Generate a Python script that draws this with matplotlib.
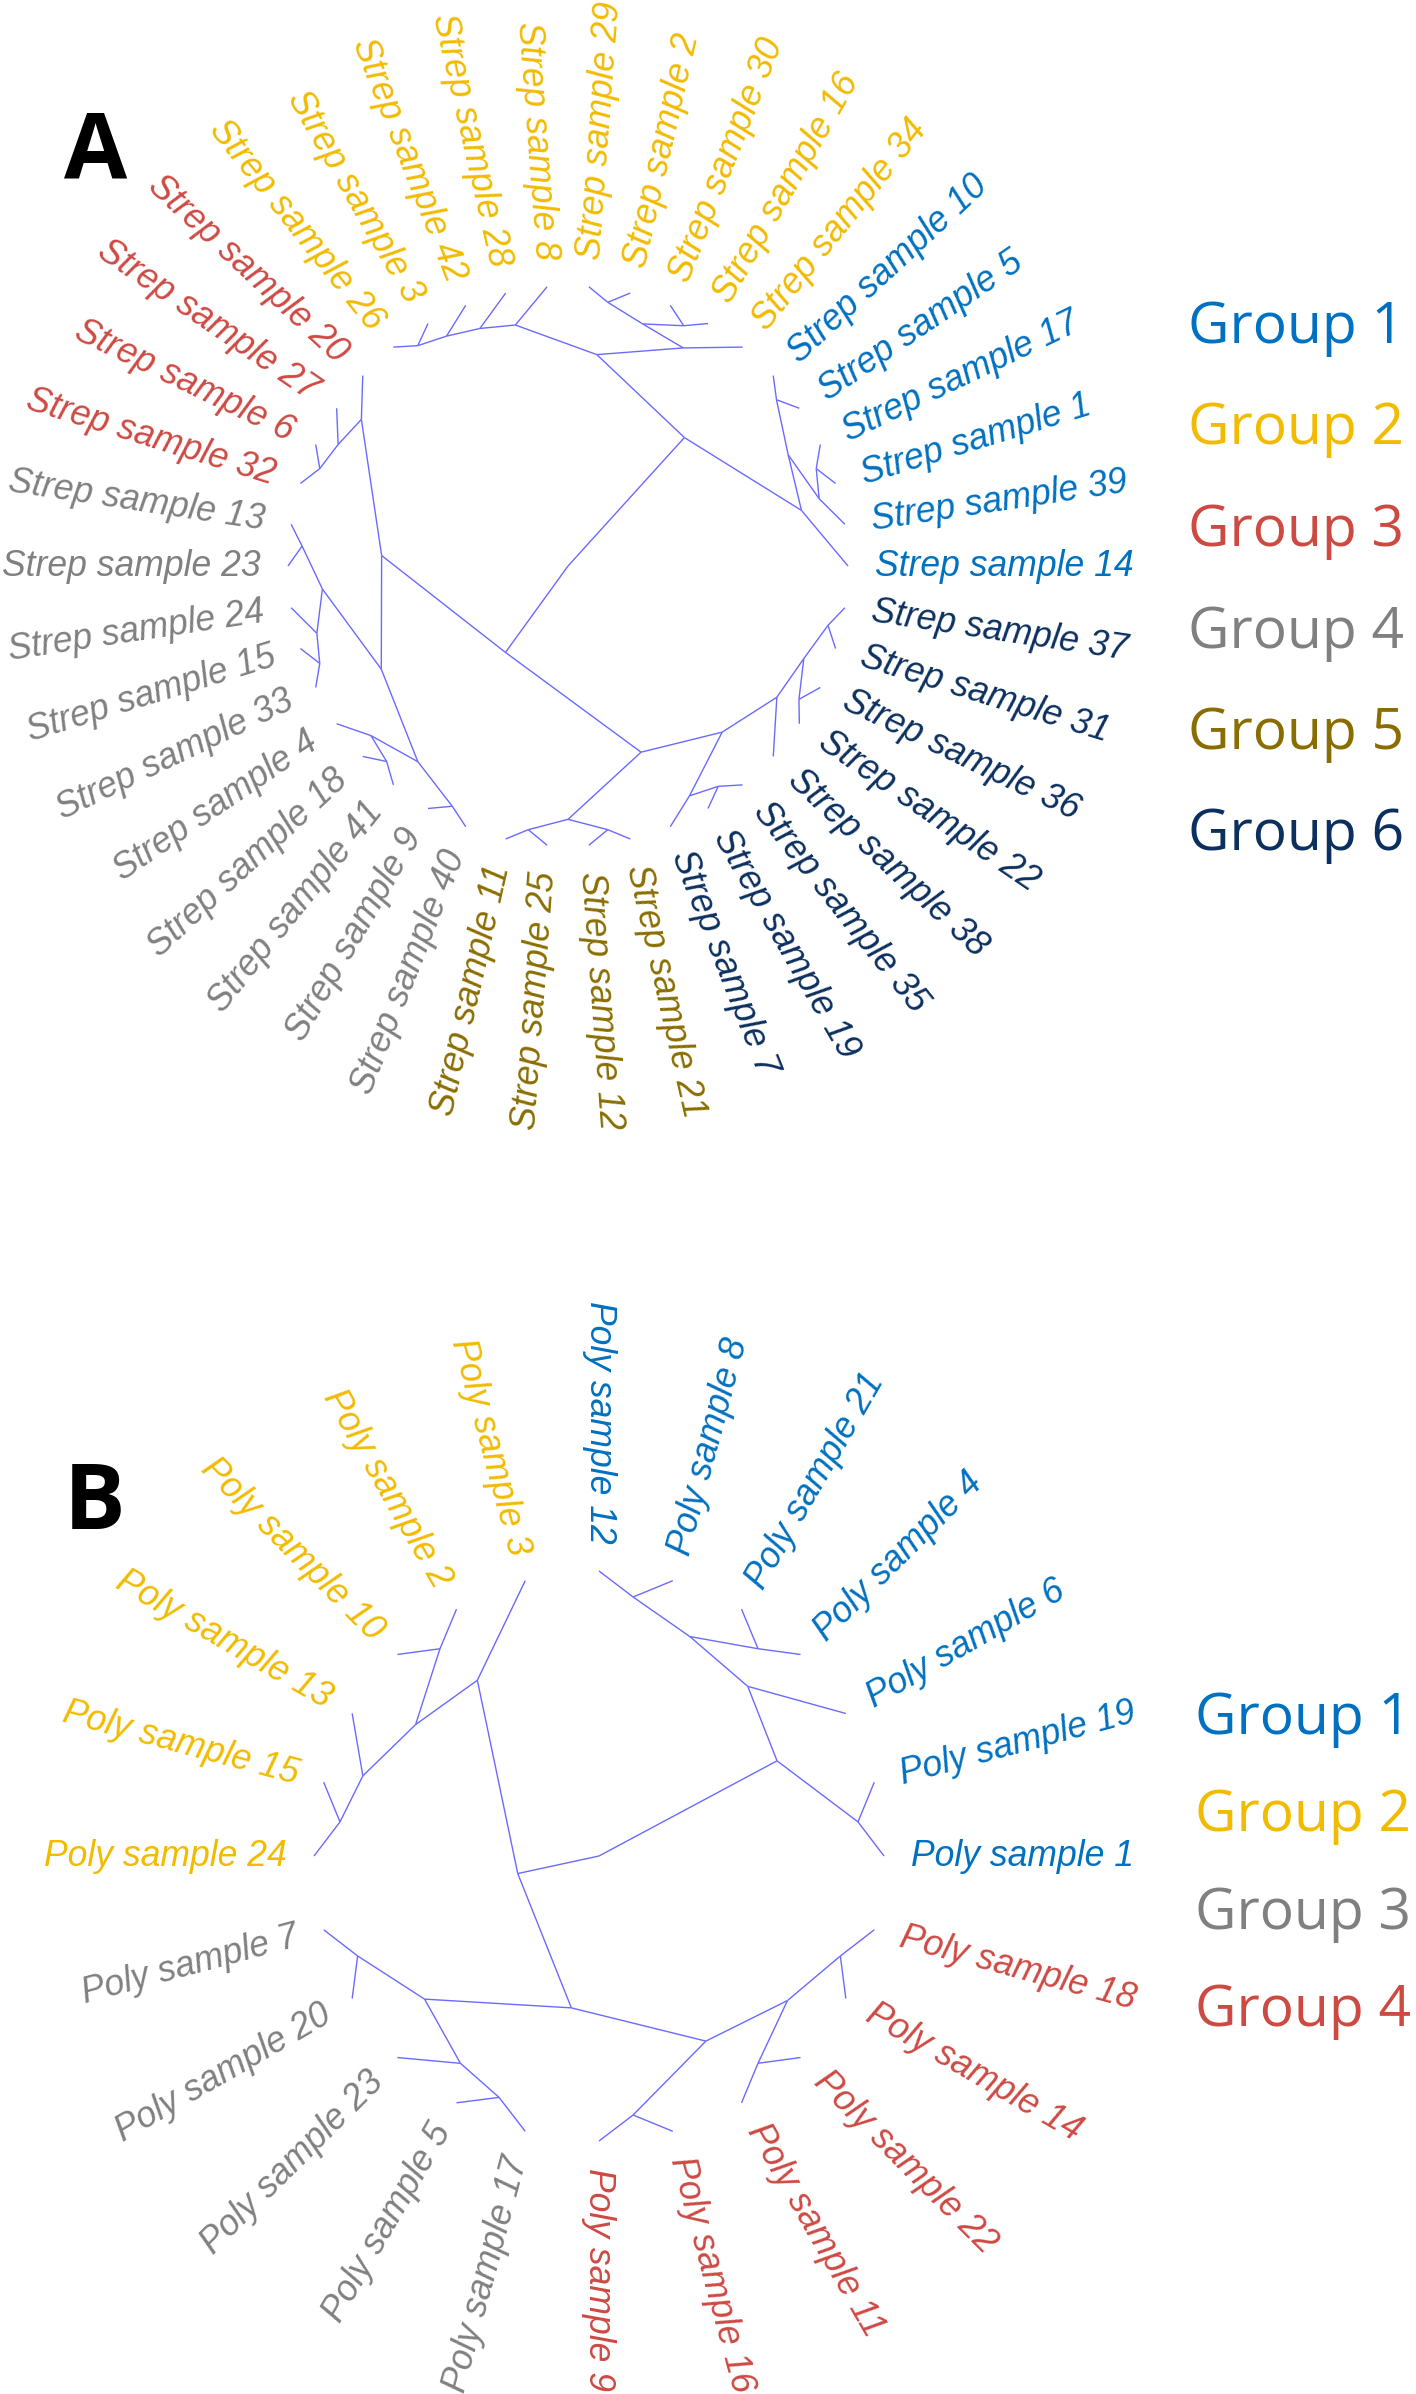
import numpy as np
import matplotlib
matplotlib.use("Agg")
import matplotlib.pyplot as plt
from matplotlib.collections import LineCollection

# ------------------------------------------------------------------ data
# Tree topologies (nested pairs of sample numbers).
strep_tree = (
    ((14, ((39, (1, 17)), (5, 10))),
     ((34, ((16, 30), (2, 29))), (8, (28, (42, (3, 26)))))),
    (((20, (27, (6, 32))),
      (((13, 23), (24, (15, 33))), ((4, (18, 41)), (9, 40)))),
     (((11, 25), (12, 21)),
      ((7, (19, 35)), (38, ((22, 36), (31, 37)))))),
)

poly_tree = (
    ((1, 19), (6, ((4, 21), (8, 12)))),
    ((3, ((2, 10), (13, (15, 24)))),
     (((7, 20), (23, (5, 17))), ((9, 16), ((11, 22), (14, 18))))),
)

# Group membership
strep_groups = [
    [10, 5, 17, 1, 39, 14],
    [26, 3, 42, 28, 8, 29, 2, 30, 16, 34],
    [20, 27, 6, 32],
    [13, 23, 24, 15, 33, 4, 18, 41, 9, 40],
    [11, 25, 12, 21],
    [7, 19, 35, 38, 22, 36, 31, 37],
]
poly_groups = [
    [12, 8, 21, 4, 6, 19, 1],
    [3, 2, 10, 13, 15, 24],
    [7, 20, 23, 5, 17],
    [9, 16, 11, 22, 14, 18],
]
strep_group_names = ["Group 1", "Group 2", "Group 3", "Group 4", "Group 5", "Group 6"]
poly_group_names = ["Group 1", "Group 2", "Group 3", "Group 4"]

# ------------------------------------------------------------------ styles
BLUE, YELLOW, RED, GREY, OLIVE, NAVY = "#0070C0", "#F2BB00", "#CD4A43", "#808080", "#8A6D00", "#0B2F5E"
strep_colors = [BLUE, YELLOW, RED, GREY, OLIVE, NAVY]
poly_colors = [BLUE, YELLOW, GREY, RED]
EDGE = "#6A6AFF"

W, H = 1416, 2394
fig = plt.figure(figsize=(W / 100, H / 100), dpi=100)


def radial_layout(tree):
    """Radial cladogram: tips equally spaced on the unit circle, an internal
    node with k of n tips at radius 1-k/n and at the mean angle of its children."""
    tips = []

    def collect(t):
        if isinstance(t, tuple):
            for c in t:
                collect(c)
        else:
            tips.append(t)

    collect(tree)
    n = len(tips)
    tip_angle = {t: i * 2 * np.pi / n for i, t in enumerate(tips)}
    segs = []

    def xy(a, r):
        return (r * np.cos(a), r * np.sin(a))

    def place(t):
        if not isinstance(t, tuple):
            return tip_angle[t], 1.0, 1
        kids = [place(c) for c in t]
        k = sum(c[2] for c in kids)
        a = float(np.mean([c[0] for c in kids]))
        r = 1.0 - k / n
        for ca, cr, _ in kids:
            segs.append([xy(a, r), xy(ca, cr)])
        return a, r, k

    place(tree)
    return tips, tip_angle, segs


def draw_panel(tree, groups, colors, prefix, cx, cy, R, y0, y1, gap):
    # axes covering the pixel band [y0, y1] with 1 data unit = R pixels
    ax = fig.add_axes([0, 1 - y1 / H, 1, (y1 - y0) / H])
    ax.set_xlim(-cx / R, (W - cx) / R)
    ax.set_ylim((cy - y1) / R, (cy - y0) / R)
    ax.axis("off")
    tips, tip_angle, segs = radial_layout(tree)
    ax.add_collection(LineCollection(segs, colors=EDGE, linewidths=1.0))
    color_of = {}
    for g, members in enumerate(groups):
        for m in members:
            color_of[m] = colors[g]
    off = 1.0 + gap / R
    for t in tips:
        a = tip_angle[t]
        deg = round(np.degrees(a), 6)
        flip = 90 <= deg < 270
        rot = deg - 180 if flip else deg
        ax.text(off * np.cos(a), off * np.sin(a), f"{prefix} sample {t}",
                rotation=rot, rotation_mode="anchor",
                ha="right" if flip else "left", va="center",
                fontsize=25.6, fontstyle="italic", family="Liberation Sans",
                color=color_of[t])
    return ax


draw_panel(strep_tree, strep_groups, strep_colors, "Strep", 568, 566, 280, 0, 1200, 27)
draw_panel(poly_tree, poly_groups, poly_colors, "Poly", 599, 1856, 285, 1200, H, 27)

# legends
for i, (name, col) in enumerate(zip(strep_group_names, strep_colors)):
    fig.text(1188 / W, 1 - (343 + i * 101.5) / H, name, color=col, fontsize=41,
             family="Open Sans", ha="left", va="baseline")
for i, (name, col) in enumerate(zip(poly_group_names, poly_colors)):
    fig.text(1195 / W, 1 - (1734 + i * 97.3) / H, name, color=col, fontsize=41,
             family="Open Sans", ha="left", va="baseline")

# panel letters
fig.text(64 / W, 1 - 178 / H, "A", fontsize=66, fontweight="bold",
         family="Open Sans", ha="left", va="baseline", color="black")
fig.text(64 / W, 1 - 1529 / H, "B", fontsize=66, fontweight="bold",
         family="Open Sans", ha="left", va="baseline", color="black")

fig.savefig("out.png", dpi=100, facecolor="white")
